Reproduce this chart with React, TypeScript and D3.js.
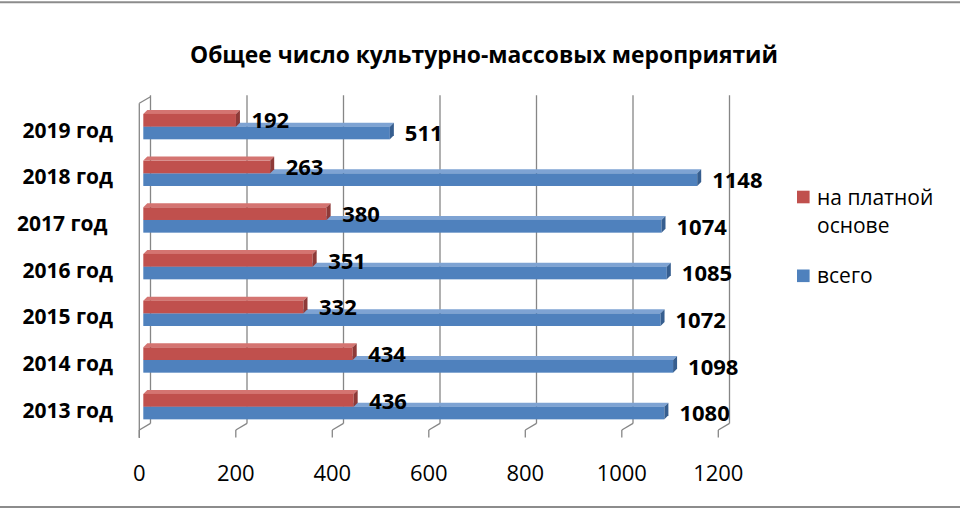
import React from "react";
import * as d3 from "d3";

const title = "Общее число культурно-массовых мероприятий";
const years = ["2013 год", "2014 год", "2015 год", "2016 год", "2017 год ", "2018 год", "2019 год"];
const paid = [436, 434, 332, 351, 380, 263, 192];
const total = [1080, 1098, 1072, 1085, 1074, 1148, 511];
const xTicks = [0, 200, 400, 600, 800, 1000, 1200];
const seriesNames = ["на платной основе", "всего"];
const legendLines = [["на платной", "основе"], ["всего"]];

const W = 960;
const H = 510;
const FONT = "'Open Sans', 'DejaVu Sans', sans-serif";

const RED = { front: "#C0504D", top: "#D47471", side: "#8E3A38" };
const BLUE = { front: "#4F81BD", top: "#7EA3D3", side: "#365E8F" };

export default function App() {
  const frontLeft = 139.3;
  const plotTop = 103.3;
  const plotBottom = 430;
  const backDx = 11.2;
  const backDy = 6.6;
  const barDx = 4;
  const depth = 4;

  const x = d3.scaleLinear().domain([0, 1200]).range([frontLeft, frontLeft + 579]);
  const y = d3
    .scaleBand<string>()
    .domain([...years].reverse())
    .range([plotTop, plotBottom]);
  const sub = d3
    .scaleBand<string>()
    .domain(seriesNames)
    .range([0, y.bandwidth()])
    .paddingInner(0)
    .paddingOuter(0.84);
  const bh = sub.bandwidth();

  const gridColor = "#868686";

  const bar = (cat: string, v: number, s: string, c: typeof RED, key: string) => {
    const y0 = (y(cat) as number) + (sub(s) as number);
    const x0 = x(0) + barDx;
    const x1 = x(v) + barDx;
    const top = `${x0},${y0} ${x0 + depth},${y0 - depth} ${x1 + depth},${y0 - depth} ${x1},${y0}`;
    const side = `${x1},${y0} ${x1 + depth},${y0 - depth} ${x1 + depth},${y0 + bh - depth} ${x1},${y0 + bh}`;
    return (
      <g key={key}>
        <polygon points={top} fill={c.top} />
        <rect x={x0} y={y0} width={x1 - x0} height={bh} fill={c.front} />
        <polygon points={side} fill={c.side} />
      </g>
    );
  };

  return (
    <svg
      width={W}
      height={H}
      viewBox={`0 0 ${W} ${H}`}
      style={{ position: "absolute", left: 0, top: 0, background: "#fff" }}
    >
      <rect x={0} y={0} width={W} height={H} fill="#fff" />
      <line x1={0} x2={W} y1={2.3} y2={2.3} stroke="#8c8c8c" strokeWidth={2} />
      <line x1={0} x2={W} y1={507} y2={507} stroke="#8c8c8c" strokeWidth={2} />

      <text
        x={484}
        y={63}
        textAnchor="middle"
        fontFamily={FONT}
        fontWeight={700}
        fontSize={22.5}
        textLength={588}
        lengthAdjust="spacingAndGlyphs"
        fill="#000"
      >
        {title}
      </text>

      {/* left wall */}
      <line x1={frontLeft} x2={frontLeft} y1={plotTop} y2={plotBottom + 8} stroke={gridColor} strokeWidth={1.3} />
      <line x1={frontLeft} x2={frontLeft + backDx} y1={plotTop} y2={plotTop - backDy} stroke={gridColor} strokeWidth={1.3} />

      {/* back wall gridlines + floor */}
      {xTicks.map((t) => (
        <g key={"g" + t}>
          <line
            x1={x(t) + backDx}
            x2={x(t) + backDx}
            y1={plotTop - backDy - 1.5}
            y2={plotBottom - backDy}
            stroke={gridColor}
            strokeWidth={1.3}
          />
          <line
            x1={x(t) + backDx}
            x2={x(t)}
            y1={plotBottom - backDy}
            y2={plotBottom}
            stroke={gridColor}
            strokeWidth={1.3}
          />
          <line x1={x(t)} x2={x(t)} y1={plotBottom} y2={plotBottom + 7.5} stroke={gridColor} strokeWidth={1.3} />
          <text
            x={x(t)}
            y={481}
            textAnchor="middle"
            fontFamily={FONT}
            fontSize={22}
            fill="#000"
          >
            {t}
          </text>
        </g>
      ))}

      {/* bars */}
      {years.map((cat, i) => (
        <g key={cat}>
          {bar(cat, total[i], seriesNames[1], BLUE, "b")}
          {bar(cat, paid[i], seriesNames[0], RED, "r")}
        </g>
      ))}

      {/* value labels */}
      {years.map((cat, i) => {
        const yr = (y(cat) as number) + (sub(seriesNames[0]) as number) + bh / 2;
        const yb = (y(cat) as number) + (sub(seriesNames[1]) as number) + bh / 2;
        return (
          <g key={"l" + cat} fontFamily={FONT} fontWeight={700} fontSize={22} fill="#000">
            <text x={x(paid[i]) + barDx + 11.5 + depth} y={yr + 8.2}>
              {paid[i]}
            </text>
            <text x={x(total[i]) + barDx + 11 + depth} y={yb + 8.2}>
              {total[i]}
            </text>
          </g>
        );
      })}

      {/* category labels */}
      {years.map((cat) => (
        <text
          key={"c" + cat}
          x={113}
          y={(y(cat) as number) + y.bandwidth() / 2 + 11}
          textAnchor="end"
          fontFamily={FONT}
          fontWeight={700}
          fontSize={21}
          fill="#000"
          style={{ whiteSpace: "pre" }}
        >
          {cat}
        </text>
      ))}

      {/* legend */}
      <g fontFamily={FONT} fontSize={21} fill="#000">
        <rect x={797} y={190.7} width={12.6} height={12.6} fill={RED.front} />
        {legendLines[0].map((l, k) => (
          <text key={l} x={817} y={205 + k * 28}>
            {l}
          </text>
        ))}
        <rect x={797} y={269.5} width={12.6} height={12.6} fill={BLUE.front} />
        <text x={817} y={283.3}>
          {legendLines[1][0]}
        </text>
      </g>
    </svg>
  );
}
